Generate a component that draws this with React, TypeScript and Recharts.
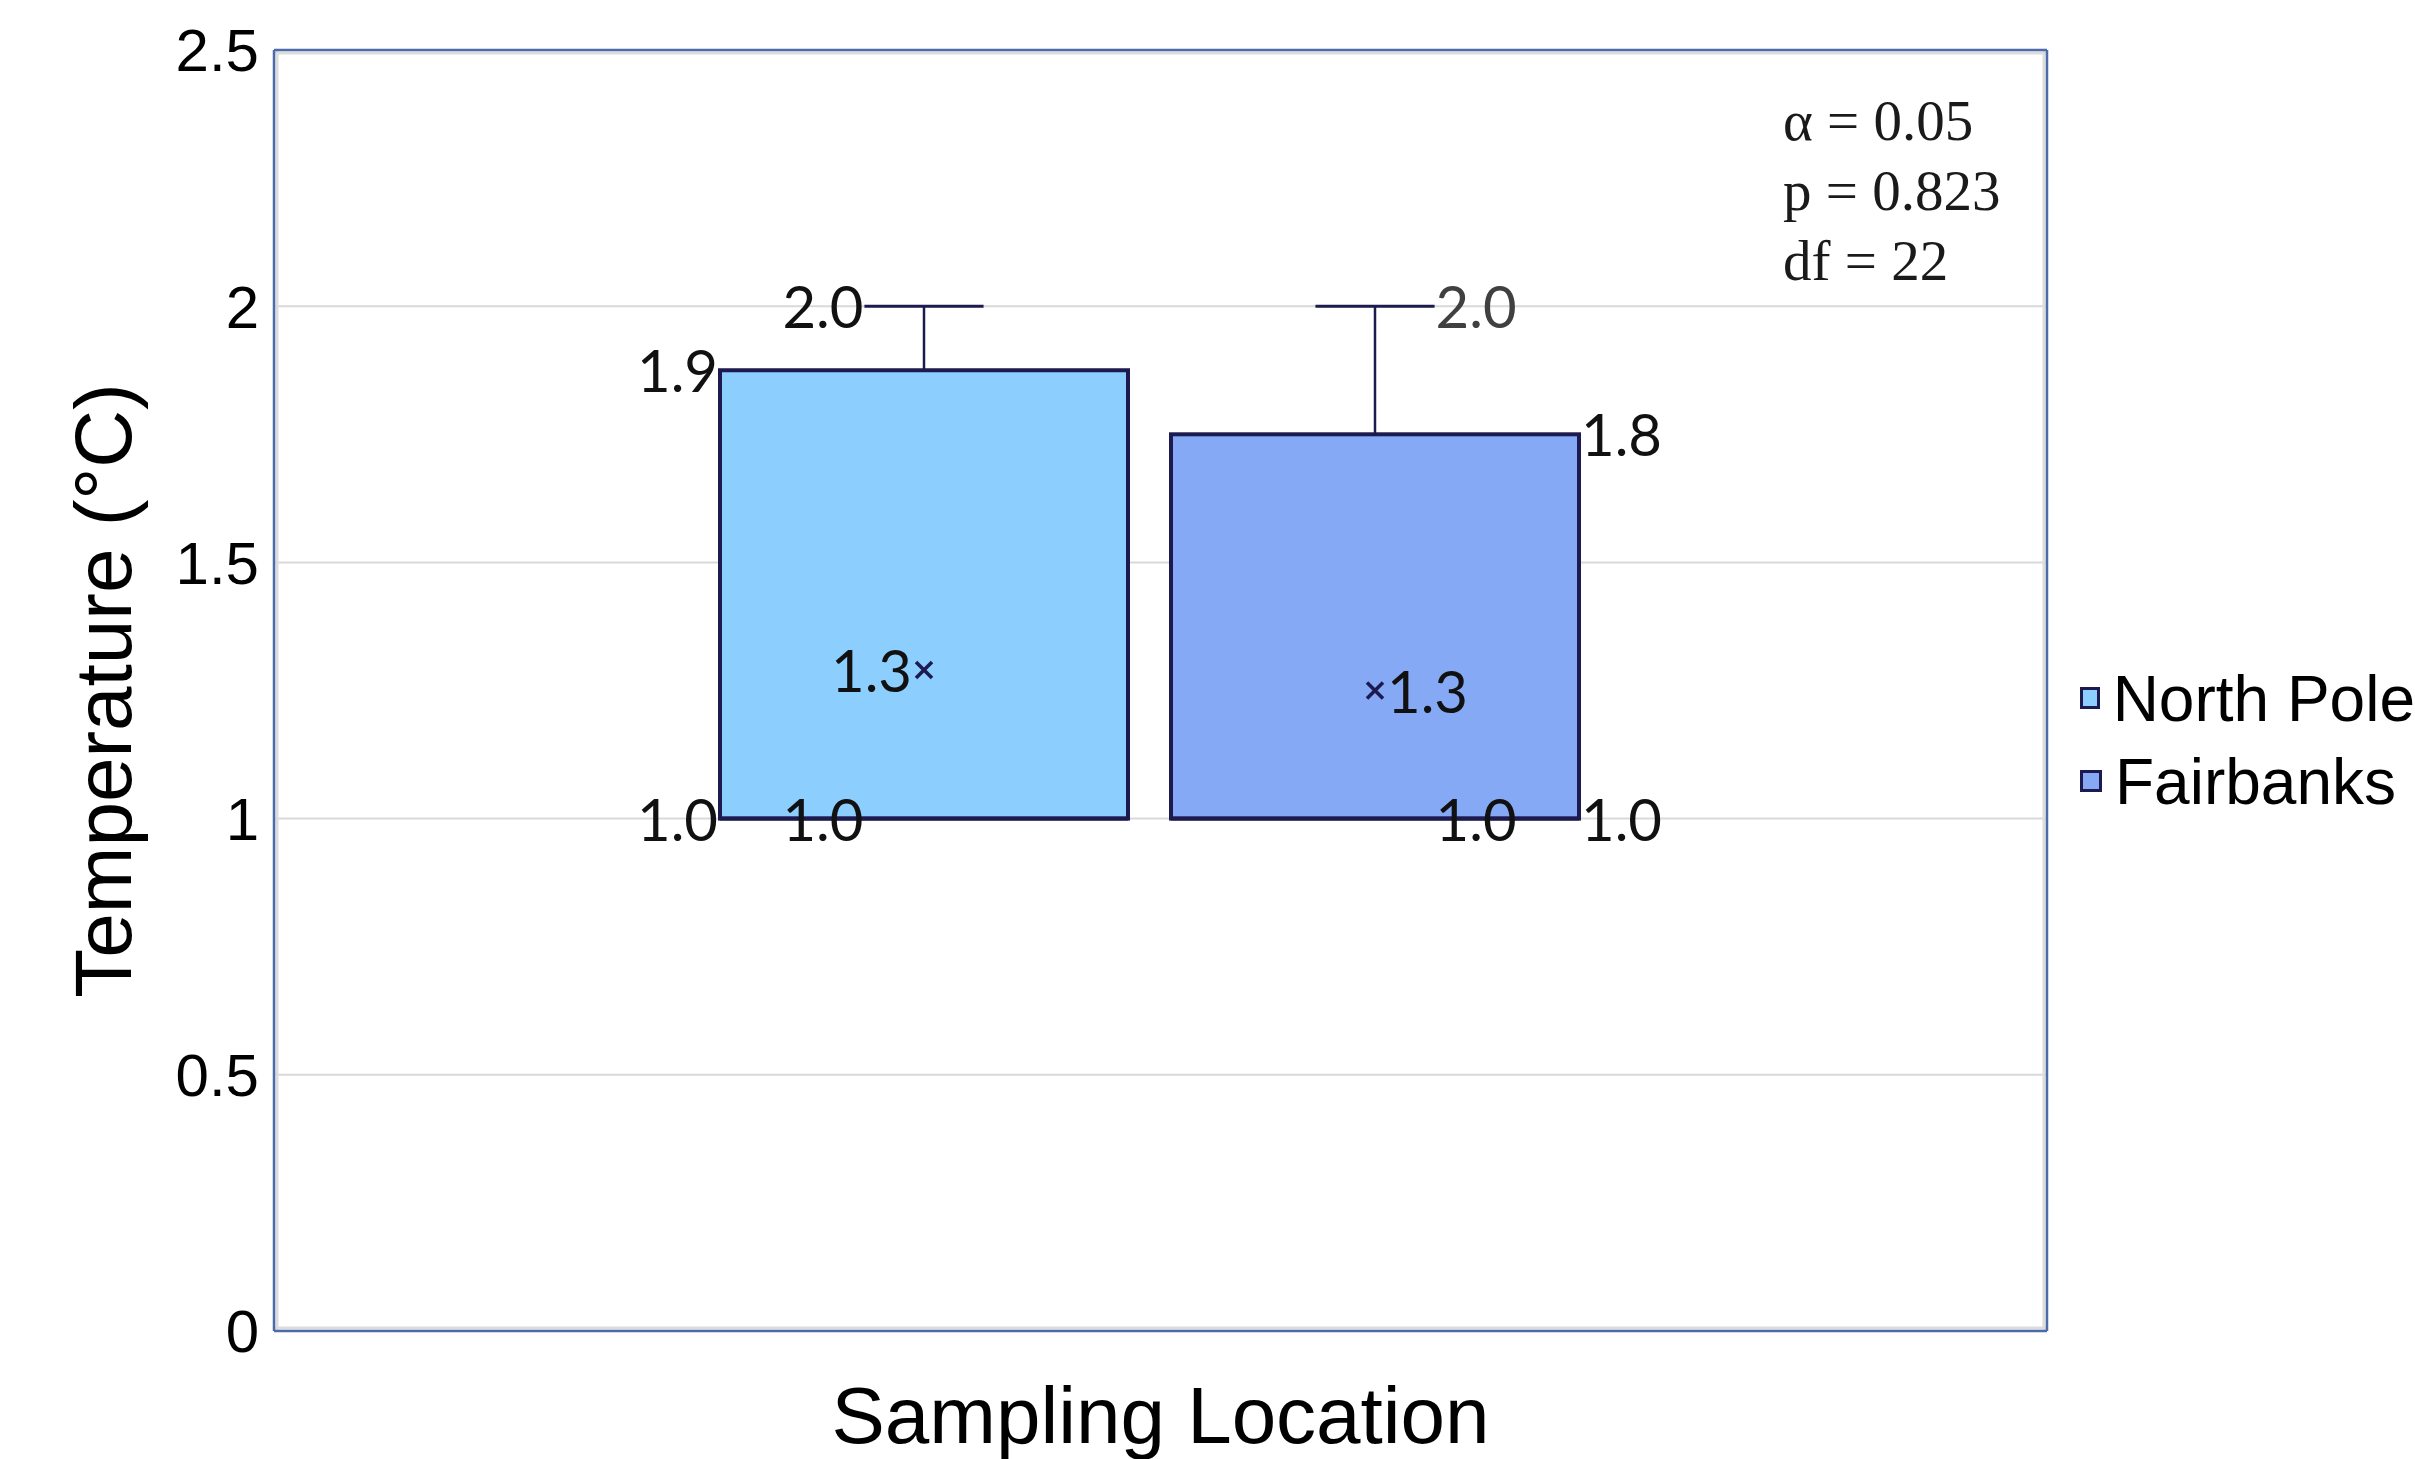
import React from "react";
import { Bar, CartesianGrid, ComposedChart, Label, Legend, XAxis, YAxis } from "recharts";

const locations = ["North Pole", "Fairbanks"];
const minTemps = [1.0, 1.0];
const q1Temps = [1.0, 1.0];
const medianTemps = [1.0, 1.0];
const q3Temps = [1.875, 1.75];
const maxTemps = [2.0, 2.0];
const meanTemps = [1.29, 1.25];
const yTicks = [0, 0.5, 1, 1.5, 2, 2.5];
const statLines = ["α = 0.05", "p = 0.823", "df = 22"];

const fills = ["#8CCFFF", "#85A9F4"];
const edge = "#1C1A4E";
const sans = "'Liberation Sans', Arial, sans-serif";
const labelFont = "Lato, 'Noto Sans', sans-serif";

// one category, two stacks: transparent base up to Q1, then the Q1..Q3 box
const row: Record<string, string | number> = { name: "Sampling Location" };
locations.forEach((_, i) => {
  row[`base${i}`] = q1Temps[i];
  row[`box${i}`] = q3Temps[i] - q1Temps[i];
});
const data = [row];

const fmt = (v: number) => v.toFixed(1);

function makeBoxShape(s: number) {
  const side = s === 0 ? -1 : 1;
  const anchor = side < 0 ? "end" : "start";
  return (props: any) => {
    const { x, y, width, height } = props;
    const ppu = height / (q3Temps[s] - q1Temps[s]);
    const bottom = y + height;
    const toY = (v: number) => bottom - (v - q1Temps[s]) * ppu;
    const cx = x + width / 2;
    const half = width * 0.146;
    const yMax = toY(maxTemps[s]);
    const yMin = toY(minTemps[s]);
    const yMed = toY(medianTemps[s]);
    const yMean = toY(meanTemps[s]);
    const boxEdgeX = side < 0 ? x - 2 : x + width + 2;
    const capEdgeX = side < 0 ? cx - half - 1 : cx + half + 1;
    const txt = { fontFamily: labelFont, fontSize: 58, dy: "0.38em", textAnchor: anchor } as any;
    return (
      <g>
        <line x1={cx} x2={cx} y1={yMax} y2={y} stroke={edge} strokeWidth={2.5} />
        <line x1={cx - half} x2={cx + half} y1={yMax} y2={yMax} stroke={edge} strokeWidth={3} />
        <line x1={cx} x2={cx} y1={bottom} y2={yMin} stroke={edge} strokeWidth={2.5} />
        <line x1={cx - half} x2={cx + half} y1={yMin} y2={yMin} stroke={edge} strokeWidth={3} />
        <rect x={x} y={y} width={width} height={height} fill={fills[s]} stroke={edge} strokeWidth={4} />
        <line x1={x} x2={x + width} y1={yMed} y2={yMed} stroke={edge} strokeWidth={4} />
        <line x1={cx - 8} x2={cx + 8} y1={yMean - 8} y2={yMean + 8} stroke={edge} strokeWidth={3.5} />
        <line x1={cx - 8} x2={cx + 8} y1={yMean + 8} y2={yMean - 8} stroke={edge} strokeWidth={3.5} />
        <text {...txt} x={capEdgeX} y={yMax} fill={s === 0 ? "#111" : "#404040"}>{fmt(maxTemps[s])}</text>
        <text {...txt} x={boxEdgeX} y={y} fill="#111">{fmt(q3Temps[s])}</text>
        <text {...txt} x={boxEdgeX} y={bottom} fill="#111">{fmt(q1Temps[s])}</text>
        <text {...txt} x={capEdgeX} y={yMin} fill="#111">{fmt(minTemps[s])}</text>
        <text {...txt} x={cx + side * 12} y={yMean} fill="#111">{fmt(meanTemps[s])}</text>
      </g>
    );
  };
}

function renderLegend(props: any) {
  const items = (props.payload || [])
    .filter((p: any) => p.type !== "none")
    .sort((a: any, b: any) => locations.indexOf(a.value) - locations.indexOf(b.value));
  return (
    <div style={{ fontFamily: sans, fontSize: 64, lineHeight: "83px", color: "#000" }}>
      {items.map((item: any) => (
        <div key={item.value} style={{ display: "flex", alignItems: "center", whiteSpace: "nowrap" }}>
          <span
            style={{
              display: "inline-block",
              width: 16,
              height: 16,
              background: item.color,
              border: `3px solid ${edge}`,
              marginRight: 13,
              marginTop: -4,
            }}
          />
          {item.value}
        </div>
      ))}
    </div>
  );
}

function YTitle(props: any) {
  const vb = props.viewBox;
  const tx = vb.x + 131;
  const ty = vb.y + vb.height / 2;
  return (
    <text x={tx} y={ty} transform={`rotate(-90 ${tx} ${ty})`} textAnchor="middle" fontSize={80} fontFamily={sans} fill="#000">
      Temperature (°C)
    </text>
  );
}

const frameY = (inset: number) => ({ offset }: any) => [offset.top + inset, offset.top + offset.height - inset];
const frameX = (inset: number) => ({ offset }: any) => [offset.left + inset, offset.left + offset.width - inset];

export default function App() {
  return (
    <div style={{ position: "absolute", left: 0, top: 0, width: 2415, height: 1459, background: "#fff" }}>
      <ComposedChart
        width={2415}
        height={1459}
        data={data}
        margin={{ top: 50, right: 368, bottom: 0, left: 0 }}
        barGap={43}
        barSize={408}
      >
        <CartesianGrid vertical={false} stroke="#D9D9D9" strokeWidth={2} />
        <CartesianGrid horizontalCoordinatesGenerator={frameY(3)} verticalCoordinatesGenerator={frameX(3)} stroke="#DCDCDC" strokeWidth={3} />
        <CartesianGrid horizontalCoordinatesGenerator={frameY(0)} verticalCoordinatesGenerator={frameX(0)} stroke="#4B6BAA" strokeWidth={2.5} />
        <XAxis
          dataKey="name"
          tick={false}
          tickLine={false}
          axisLine={false}
          height={128}
          padding={{ left: 0, right: 22 }}
          label={{ value: "Sampling Location", position: "insideBottom", offset: 16, fontSize: 80, fill: "#000", fontFamily: sans }}
        />
        <YAxis
          domain={[0, 2.5]}
          ticks={yTicks}
          width={274}
          tickSize={0}
          tickMargin={15}
          axisLine={false}
          tickLine={false}
          tick={{ fontSize: 60, fill: "#000", fontFamily: sans }}
        >
          <Label content={<YTitle />} />
        </YAxis>
        <Legend
          layout="vertical"
          align="center"
          verticalAlign="middle"
          wrapperStyle={{ left: 2080, top: 658, width: 335 }}
          content={renderLegend}
        />
        {locations.map((loc, i) => [
          <Bar key={`b${i}`} dataKey={`base${i}`} stackId={`s${i}`} fill="transparent" legendType="none" isAnimationActive={false} />,
          <Bar
            key={`x${i}`}
            dataKey={`box${i}`}
            stackId={`s${i}`}
            name={loc}
            fill={fills[i]}
            shape={makeBoxShape(i)}
            isAnimationActive={false}
          />,
        ])}
      </ComposedChart>
      <div
        style={{
          position: "absolute",
          left: 1783,
          top: 86,
          fontFamily: "'Liberation Serif', 'Times New Roman', serif",
          fontSize: 57,
          lineHeight: "70px",
          color: "#1a1a1a",
          whiteSpace: "nowrap",
        }}
      >
        {statLines.map((l) => (
          <div key={l}>{l}</div>
        ))}
      </div>
    </div>
  );
}
